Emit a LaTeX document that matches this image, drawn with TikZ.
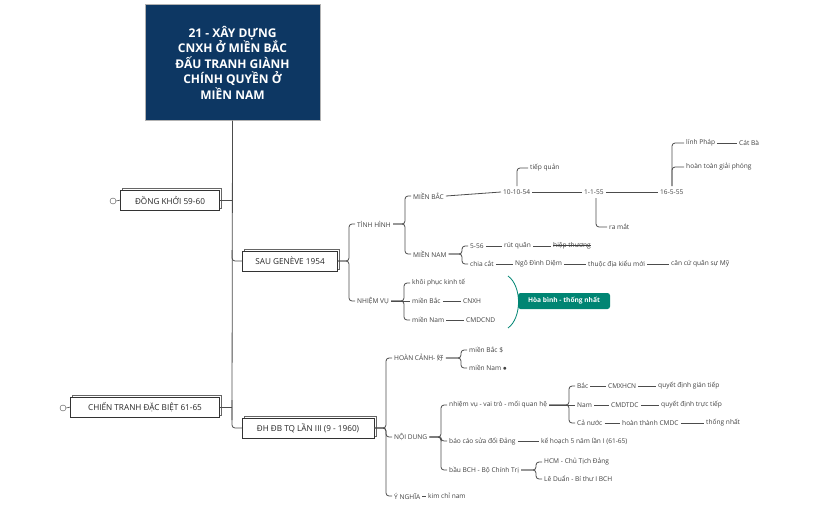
\documentclass[tikz,border=0pt]{standalone}
\usepackage{fontspec}
\setmainfont{Open Sans}
\newfontfamily\cjk{Noto Sans CJK SC}
\usetikzlibrary{shadows}
\begin{document}
\begin{tikzpicture}[x=1pt,y=-1pt,
 t/.style={font=\fontsize{6.6}{8}\selectfont,text=black!75,inner sep=2pt,anchor=west},
 main/.style={draw=black!80,fill=white,font=\fontsize{8.2}{10}\selectfont,text=black!85,minimum height=20pt,inner xsep=6pt,
   copy shadow={shadow xshift=2pt,shadow yshift=2pt,draw=black!60}},
 ln/.style={draw=black!70,line width=0.8pt,rounded corners=3pt},
 br/.style={ln}]
\useasboundingbox (0,0) rectangle (826,511);
% root
\node[fill={rgb,255:red,13;green,55;blue,99},draw=black!30,line width=1pt,minimum width=175pt,minimum height=115pt,align=center,text=white,font=\bfseries\fontsize{12}{15.5}\selectfont] (root) at (232.5,62.5) {21 - XÂY DỰNG\\CNXH Ở MIỀN BẮC\\ĐẤU TRANH GIÀNH\\CHÍNH QUYỀN Ở\\MIỀN NAM};
% main nodes
\node[main,minimum width=99pt] (dk) at (170,200) {ĐỒNG KHỞI 59-60};
\node[main,minimum width=95pt] (sg) at (290,261) {SAU GENÈVE 1954};
\node[main,minimum width=149pt] (ct) at (145,407) {CHIẾN TRANH ĐẶC BIỆT 61-65};
\node[main,minimum width=132pt] (dh) at (308,428) {ĐH ĐB TQ LẦN III (9 - 1960)};
\draw[ln,rounded corners=0pt] (root.south) -- (232,420);
\draw[ln] (232,400) |- (dh.west);
\draw[ln] (232,250) |- (sg.west);
\draw[ln] (dk.east) -- (232,200);
\draw[ln] (ct.east) -- (232,407);
\node[circle,draw=black!70,inner sep=0pt,minimum size=6pt] (i1) at (113,201) {};
\draw[black!70,line width=0.6pt] (i1.east) -- (dk.west);
\node[circle,draw=black!70,inner sep=0pt,minimum size=6pt] (i2) at (63,408) {};
\draw[black!70,line width=0.6pt] (i2.east) -- (ct.west);
% SAU GENEVE
\node[t] (th) at (355,224) {TÌNH HÌNH};
\node[t] (nv) at (355,301) {NHIỆM VỤ};
\draw[br] (sg.east) -| ([xshift=-6pt]th.west) -- (th.west);
\draw[br] (sg.east) -| ([xshift=-6pt]nv.west) -- (nv.west);
\node[t] (mb) at (411,196) {MIỀN BẮC};
\node[t] (mn) at (411,254) {MIỀN NAM};
\draw[br] (th.east) -| ([xshift=-6pt]mb.west) -- (mb.west);
\draw[br] (th.east) -| ([xshift=-6pt]mn.west) -- (mn.west);
\node[t] (d1) at (501,192) {10-10-54};
\node[t] (d2) at (582,192) {1-1-55};
\node[t] (d3) at (658,192) {16-5-55};
\draw[ln] (mb.east) -- (d1.west); \draw[ln] (d1.east) -- (d2.west); \draw[ln] (d2.east) -- (d3.west);
\node[t] (tq) at (528,168) {tiếp quản};
\draw[br] (517,186) |- (tq.west);
\node[t] (rm) at (607,227) {ra mắt};
\draw[br] (596,198) |- (rm.west);
\node[t] (lp) at (684,143) {lính Pháp};
\node[t] (cb) at (737,143) {Cát Bà};
\node[t] (ht) at (684,167) {hoàn toàn giải phóng};
\draw[br] (672,186) |- (lp.west);
\draw[br] (672,186) |- (ht.west);
\draw[ln] (lp.east) -- (cb.west);
\node[t] (n5) at (468,246) {5-56};
\node[t] (rq) at (502,246) {rút quân};
\node[t] (hth) at (551,246) {hiệp thương};
\draw[black!75,line width=0.5pt] ([xshift=2pt,yshift=0.3pt]hth.west) -- ([xshift=-2pt,yshift=0.3pt]hth.east);
\draw[br] (mn.east) -| ([xshift=-6pt]n5.west) -- (n5.west);
\draw[ln] (n5.east) -- (rq.west); \draw[ln] (rq.east) -- (hth.west);
\node[t] (cc) at (468,264) {chia cắt};
\node[t] (ndd) at (513,264) {Ngô Đình Diệm};
\node[t] (td) at (586,264) {thuộc địa kiểu mới};
\node[t] (cq) at (669,264) {căn cứ quân sự Mỹ};
\draw[br] (mn.east) -| ([xshift=-6pt]cc.west) -- (cc.west);
\draw[ln] (cc.east) -- (ndd.west); \draw[ln] (ndd.east) -- (td.west); \draw[ln] (td.east) -- (cq.west);
\node[t] (kp) at (410,283) {khôi phục kinh tế};
\node[t] (nb) at (410,301) {miền Bắc};
\node[t] (cn) at (461,301) {CNXH};
\node[t] (nn) at (410,320) {miền Nam};
\node[t] (cm) at (464,320) {CMDCND};
\draw[br] (nv.east) -| ([xshift=-6pt]kp.west) -- (kp.west);
\draw[br] (nv.east) -- (nb.west);
\draw[br] (nv.east) -| ([xshift=-6pt]nn.west) -- (nn.west);
\draw[ln] (nb.east) -- (cn.west); \draw[ln] (nn.east) -- (cm.west);
\definecolor{tealc}{RGB}{0,133,115}
\draw[tealc,line width=0.8pt] (508,276) .. controls (522,286) and (522,318) .. (508,328);
\node[fill=tealc,rounded corners=2.5pt,text=white,font=\bfseries\fontsize{6.6}{8}\selectfont,minimum width=92pt,minimum height=16pt] (hb) at (564,301) {Hòa bình - thống nhất};
\draw[tealc,line width=0.8pt] (518.5,301) -- (hb.west);
% DH
\node[t] (hc) at (392,358) {HOÀN CẢNH- {\cjk 好}};
\node[t] (nd) at (392,437) {NỘI DUNG};
\node[t] (yn) at (392,496) {Ý NGHĨA};
\node[t] (kc) at (426,496) {kim chỉ nam};
\draw[br] (dh.east) -| ([xshift=-6pt]hc.west) -- (hc.west);
\draw[br] (dh.east) -| ([xshift=-6pt]yn.west) -- (yn.west);
\draw[br] (dh.east) -| ([xshift=-6pt]nd.west) -- (nd.west);
\draw[ln] (yn.east) -- (kc.west);
\node[t] (hb1) at (467,350) {miền Bắc \$};
\node[t] (hn1) at (467,368) {miền Nam $\bullet$};
\draw[br] (hc.east) -| ([xshift=-6pt]hb1.west) -- (hb1.west);
\draw[br] (hc.east) -| ([xshift=-6pt]hn1.west) -- (hn1.west);
\node[t] (nvv) at (447,405) {nhiệm vụ - vai trò - mối quan hệ};
\node[t] (bc) at (447,441) {báo cáo sửa đổi Đảng};
\node[t] (bb) at (447,470) {bầu BCH - Bộ Chính Trị};
\draw[br] (nd.east) -| ([xshift=-6pt]nvv.west) -- (nvv.west);
\draw[br] (nd.east) -| ([xshift=-6pt]bc.west) -- (bc.west);
\draw[br] (nd.east) -| ([xshift=-6pt]bb.west) -- (bb.west);
\node[t] (kh) at (539,441) {kế hoạch 5 năm lần I (61-65)};
\draw[ln] (bc.east) -- (kh.west);
\node[t] (b1) at (575,386) {Bắc};
\node[t] (b2) at (606,386) {CMXHCN};
\node[t] (b3) at (656,386) {quyết định gián tiếp};
\node[t] (m1) at (575,405) {Nam};
\node[t] (m2) at (609,405) {CMDTDC};
\node[t] (m3) at (659,405) {quyết định trực tiếp};
\node[t] (c1) at (575,423) {Cả nước};
\node[t] (c2) at (620,423) {hoàn thành CMDC};
\node[t] (c3) at (704,423) {thống nhất};
\draw[br] (nvv.east) -| ([xshift=-6pt]b1.west) -- (b1.west);
\draw[br] (nvv.east) -- (m1.west);
\draw[br] (nvv.east) -| ([xshift=-6pt]c1.west) -- (c1.west);
\draw[ln] (b1.east) -- (b2.west); \draw[ln] (b2.east) -- (b3.west);
\draw[ln] (m1.east) -- (m2.west); \draw[ln] (m2.east) -- (m3.west);
\draw[ln] (c1.east) -- (c2.west); \draw[ln] (c2.east) -- (c3.west);
\node[t] (hcm) at (542,462) {HCM - Chủ Tịch Đảng};
\node[t] (ld) at (542,479) {Lê Duẩn - Bí thư I BCH};
\draw[br] (bb.east) -| ([xshift=-6pt]hcm.west) -- (hcm.west);
\draw[br] (bb.east) -| ([xshift=-6pt]ld.west) -- (ld.west);
\end{tikzpicture}
\end{document}
